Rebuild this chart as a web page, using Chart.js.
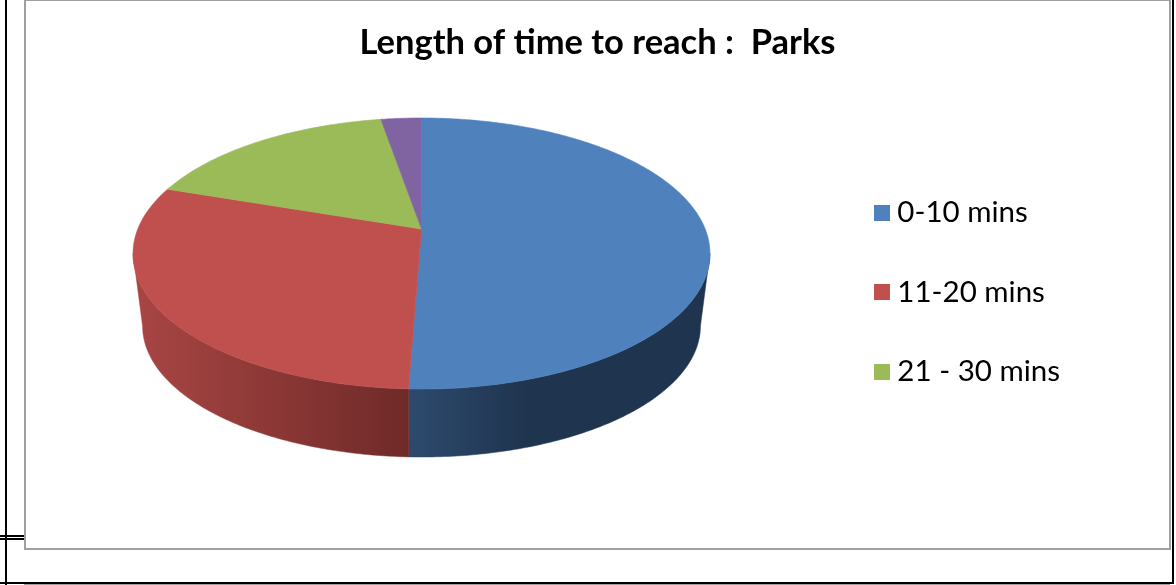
<!DOCTYPE html>
<html>
<head>
<meta charset="utf-8">
<title>Length of time to reach: Parks</title>
<script src="https://cdn.jsdelivr.net/npm/chart.js@4/dist/chart.umd.js"></script>
<style>
  html, body { margin: 0; padding: 0; background: #fff; overflow: hidden; }
  body { width: 1176px; height: 585px; position: relative; }
  .rule { position: absolute; background: #000; }
  #panel { position: absolute; left: 24px; top: -1px; width: 1143px; height: 547px; background: #fff;
           border: 2px solid #a0a0a0; box-sizing: content-box; }
  #chartBox { position: absolute; left: 0; top: 0; width: 1143px; height: 547px; }
</style>
</head>
<body>
<div class="rule" style="left:5px;top:0;width:2px;height:585px"></div>
<div class="rule" style="left:1172px;top:0;width:2px;height:584px"></div>
<div class="rule" style="left:0;top:535px;width:24px;height:2px"></div>
<div class="rule" style="left:0;top:538px;width:24px;height:2px"></div>
<div class="rule" style="left:0;top:582px;width:1174px;height:2px"></div>
<div class="rule" style="left:24px;top:584px;width:1146px;height:1px;background:#a0a0a0"></div>
<div id="panel"><div id="chartBox"><canvas id="pie"></canvas></div></div>
<script>
const titleText = "Length of time to reach :  Parks";
const categories = ["0-10 mins", "11-20 mins", "21 - 30 mins", "31+ mins"];
const shares = [50.6, 29.6, 17.1, 2.7];
const topColours = ["#4f81bd", "#c0504d", "#9bbb59", "#8064a2"];
const legendCount = 3; // the purple slice has no legend row in the source chart

// wall shading, left to right in screen x
const wallStops = [
  [[0, "#2d4a6e"], [0.4, "#1f344e"], [1, "#1f344e"]],
  [[0, "#a94644"], [1, "#6f2a28"]],
  [[0, "#5d7035"], [1, "#5d7035"]],
  [[0, "#4c3c61"], [1, "#4c3c61"]]
];

// tilted disc, canvas coordinates (panel content starts at x=26, y=1)
const view = { x: 395.5, apexY: 228, persp: 0.1808, topX: 283.7, topY: 131.07, depth: 73.3, shrink: 0.967 };
const frontFrom = Math.asin(view.persp);
const frontTo = Math.PI - frontFrom;

function rimPoint(a, lower) {
  const u = Math.cos(a), v = Math.sin(a), w = 1 - view.persp * v;
  const k = lower ? view.shrink : 1;
  return [view.x + k * view.topX * u / w, view.apexY + (lower ? view.depth : 0) + k * view.topY * v / w];
}

function tracePath(ctx, pts) {
  ctx.beginPath();
  pts.forEach((p, i) => i ? ctx.lineTo(p[0], p[1]) : ctx.moveTo(p[0], p[1]));
  ctx.closePath();
}

class TiltedArc extends Chart.ArcElement {
  static id = "tiltedArc";
  draw(ctx) {
    const pts = [[view.x, view.apexY]];
    const steps = Math.max(2, Math.ceil((this.endAngle - this.startAngle) * 80));
    for (let i = 0; i <= steps; i++) {
      pts.push(rimPoint(this.startAngle + (this.endAngle - this.startAngle) * i / steps, false));
    }
    ctx.save();
    tracePath(ctx, pts);
    ctx.fillStyle = this.options.backgroundColor;
    ctx.strokeStyle = this.options.backgroundColor;
    ctx.lineWidth = 0.6;
    ctx.fill();
    ctx.stroke();
    ctx.restore();
  }
}

class TiltedPie extends Chart.PieController {
  static id = "tiltedPie";
  static defaults = { ...Chart.PieController.defaults, dataElementType: "tiltedArc" };
  draw() {
    const ctx = this.chart.ctx;
    this.getMeta().data.forEach((arc, index) => {
      const from = Math.max(arc.startAngle, frontFrom), to = Math.min(arc.endAngle, frontTo);
      if (to <= from) return;
      const upper = [], lower = [];
      for (let i = 0; i <= 120; i++) {
        const a = from + (to - from) * i / 120;
        upper.push(rimPoint(a, false));
        lower.push(rimPoint(a, true));
      }
      const xs = upper.concat(lower).map(p => p[0]);
      const grad = ctx.createLinearGradient(Math.min(...xs), 0, Math.max(...xs), 0);
      wallStops[index].forEach(s => grad.addColorStop(s[0], s[1]));
      ctx.save();
      tracePath(ctx, upper.concat(lower.reverse()));
      ctx.fillStyle = grad;
      ctx.strokeStyle = grad;
      ctx.lineWidth = 0.5;
      ctx.fill();
      ctx.stroke();
      ctx.restore();
    });
    super.draw();
  }
}

Chart.register(TiltedArc, TiltedPie);

function legendSwatch(colour) {
  const c = document.createElement("canvas");
  c.width = 16; c.height = 16;
  const g = c.getContext("2d");
  g.fillStyle = colour;
  g.fillRect(0, 0, 16, 16);
  return c;
}

new Chart(document.getElementById("pie"), {
  type: "tiltedPie",
  data: {
    labels: categories,
    datasets: [{ data: shares, backgroundColor: topColours, borderWidth: 0, clip: false }]
  },
  options: {
    responsive: true,
    maintainAspectRatio: false,
    animation: false,
    layout: { padding: { top: 21, left: 99, right: 99, bottom: -14 } },
    plugins: {
      tooltip: { enabled: false },
      title: {
        display: true,
        text: titleText,
        color: "#000",
        font: { family: "Lato", size: 34.5, weight: "bold" },
        padding: { top: 0, bottom: 64 }
      },
      legend: {
        position: "right",
        labels: {
          color: "#000",
          font: { family: "Lato", size: 29.5 },
          usePointStyle: true,
          pointStyleWidth: 2,
          padding: 50,
          generateLabels: chart => chart.data.labels.slice(0, legendCount).map((text, i) => ({
            text,
            index: i,
            fillStyle: topColours[i],
            strokeStyle: topColours[i],
            lineWidth: 0,
            pointStyle: legendSwatch(topColours[i])
          }))
        }
      }
    }
  }
});
</script>
</body>
</html>
